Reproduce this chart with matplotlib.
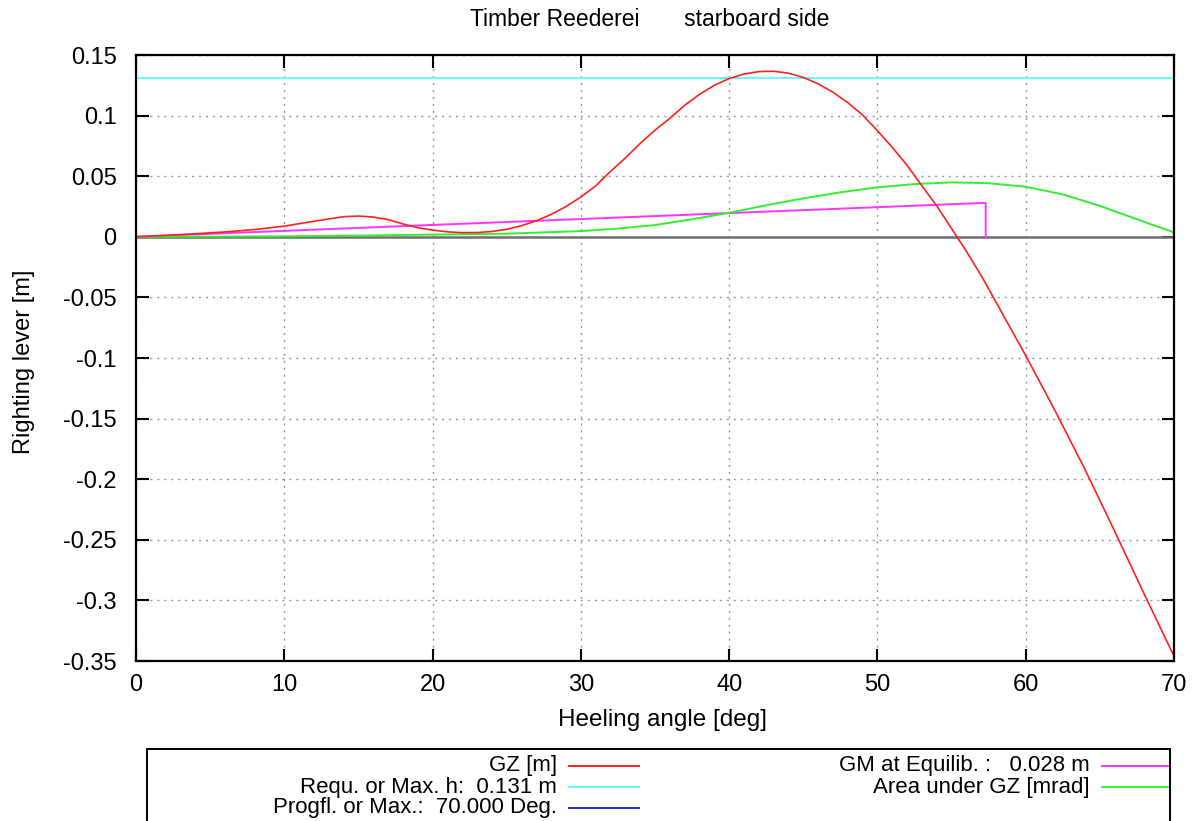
import matplotlib.pyplot as plt
from matplotlib.lines import Line2D

plt.rcParams['font.family'] = ['Liberation Sans', 'DejaVu Sans']

# GZ curve (heel angle in deg, lever in m)
gz_deg = [0, 2, 4, 6, 8, 10, 12, 14, 15, 16, 17, 18, 19, 20, 21, 22, 23, 24, 25, 26, 27, 28,
          29, 30, 31, 32, 33, 34, 35, 36, 37, 38, 39, 40, 41, 42, 43, 44, 45, 46, 47, 48, 49,
          50, 51, 52, 53, 54, 55, 56, 57, 58, 59, 60, 61, 62, 63, 64, 65, 66, 67, 68, 69, 70]
gz_val = [0.0, 0.0012, 0.0025, 0.004, 0.006, 0.0088, 0.0128, 0.0166, 0.0171, 0.0163, 0.0142,
          0.0106, 0.0075, 0.0055, 0.0041, 0.0034, 0.0035, 0.0044, 0.0062, 0.0092, 0.0132, 0.0185,
          0.025, 0.0328, 0.042, 0.054, 0.065, 0.077, 0.088, 0.0977, 0.1085, 0.1175, 0.125,
          0.1306, 0.1343, 0.1363, 0.1366, 0.135, 0.1315, 0.1262, 0.1193, 0.1107, 0.1005,
          0.0875, 0.0738, 0.059, 0.042, 0.0255, 0.0068, -0.012, -0.032, -0.054, -0.076,
          -0.098, -0.121, -0.144, -0.168, -0.192, -0.2175, -0.243, -0.269, -0.295, -0.3205,
          -0.346]

# area under GZ
area_deg = [0, 5, 10, 15, 20, 25, 30, 32.5, 35, 37.5, 40, 42.5, 45, 47.5, 50, 52.5, 55,
            57.5, 60, 62.5, 65, 67.5, 70]
area_val = [0.0, 0.0001, 0.0004, 0.001, 0.0018, 0.0026, 0.0047, 0.0068, 0.0097, 0.0145,
            0.0198, 0.026, 0.0317, 0.0367, 0.0408, 0.0435, 0.0449, 0.0442, 0.0413, 0.035,
            0.0255, 0.0145, 0.0036]

gm = 0.028          # GM at equilibrium [m]
gm_angle = 57.3     # one radian in deg
req_h = 0.131       # required / max lever
progfl = 70.0       # progressive flooding angle

x_ticks = [0, 10, 20, 30, 40, 50, 60, 70]
y_ticks = [0.15, 0.1, 0.05, 0, -0.05, -0.1, -0.15, -0.2, -0.25, -0.3, -0.35]
y_labels = ['0.15', '0.1', '0.05', '0', '-0.05', '-0.1', '-0.15', '-0.2', '-0.25', '-0.3', '-0.35']

c_gz = '#ff2020'
c_req = '#66ffff'
c_prog = '#2a2acc'
c_gm = '#ff33ff'
c_area = '#33ee33'

W, H = 1195, 821
fig = plt.figure(figsize=(W / 100, H / 100), dpi=100)
ax = fig.add_axes([136 / W, 1 - 661 / H, (1174 - 136) / W, (661 - 55) / H])

ax.axhline(0, color='#707070', lw=1.8, zorder=2)
ax.plot(gz_deg, gz_val, color=c_gz, lw=1.2, zorder=4)
ax.axhline(req_h, color=c_req, lw=1.4, zorder=3)
ax.plot([progfl, progfl], [0, req_h], color=c_prog, lw=1.0, zorder=1)
ax.plot([0, gm_angle, gm_angle], [0, gm, 0], color=c_gm, lw=1.4, zorder=3)
ax.plot(area_deg, area_val, color=c_area, lw=1.4, zorder=3)

ax.set_xlim(0, 70)
ax.set_ylim(-0.35, 0.15)
ax.set_xticks(x_ticks)
ax.set_yticks(y_ticks)
ax.set_yticklabels(y_labels)
ax.tick_params(direction='in', length=9, width=1.5, top=True, right=True, labelsize=17)
ax.tick_params(axis='x', pad=9)
ax.tick_params(axis='y', pad=14)
ax.grid(True, color='#999999', ls=(0, (1.5, 3.5)), lw=1.0)
for s in ax.spines.values():
    s.set_linewidth(1.6)
    s.set_zorder(6)

fig.text(663 / W, 1 - 720 / H, 'Heeling angle [deg]', ha='center', va='center', fontsize=17.5)
fig.text(24 / W, 1 - 362 / H, 'Righting lever [m]', ha='center', va='center', rotation=90, fontsize=17)
fig.text(650 / W, 1 - 20 / H, 'Timber Reederei       starboard side', ha='center', va='center', fontsize=16.5)

# legend box, drawn like gnuplot (text right of column, sample line after)
lg = fig.add_axes([147 / W, -0.02, (1170 - 147) / W, (H - 749) / H + 0.02])
lg.set_xlim(147, 1170)
lg.set_ylim(H + 0.02 * H, 749)
lg.set_xticks([])
lg.set_yticks([])
for s in lg.spines.values():
    s.set_linewidth(1.4)
entries = [
    ('GZ [m]', c_gz, 557, 766),
    ('Requ. or Max. h:  0.131 m', c_req, 557, 787),
    ('Progfl. or Max.:  70.000 Deg.', c_prog, 557, 808),
    ('GM at Equilib. :   0.028 m', c_gm, 1090, 766),
    ('Area under GZ [mrad]', c_area, 1090, 787),
]
for label, col, xr, yy in entries:
    lg.text(xr, yy, label, ha='right', va='center', fontsize=16)
    lg.add_line(Line2D([xr + 12, xr + 82], [yy, yy], color=col, lw=1.4))

fig.savefig('out.png', dpi=100)
